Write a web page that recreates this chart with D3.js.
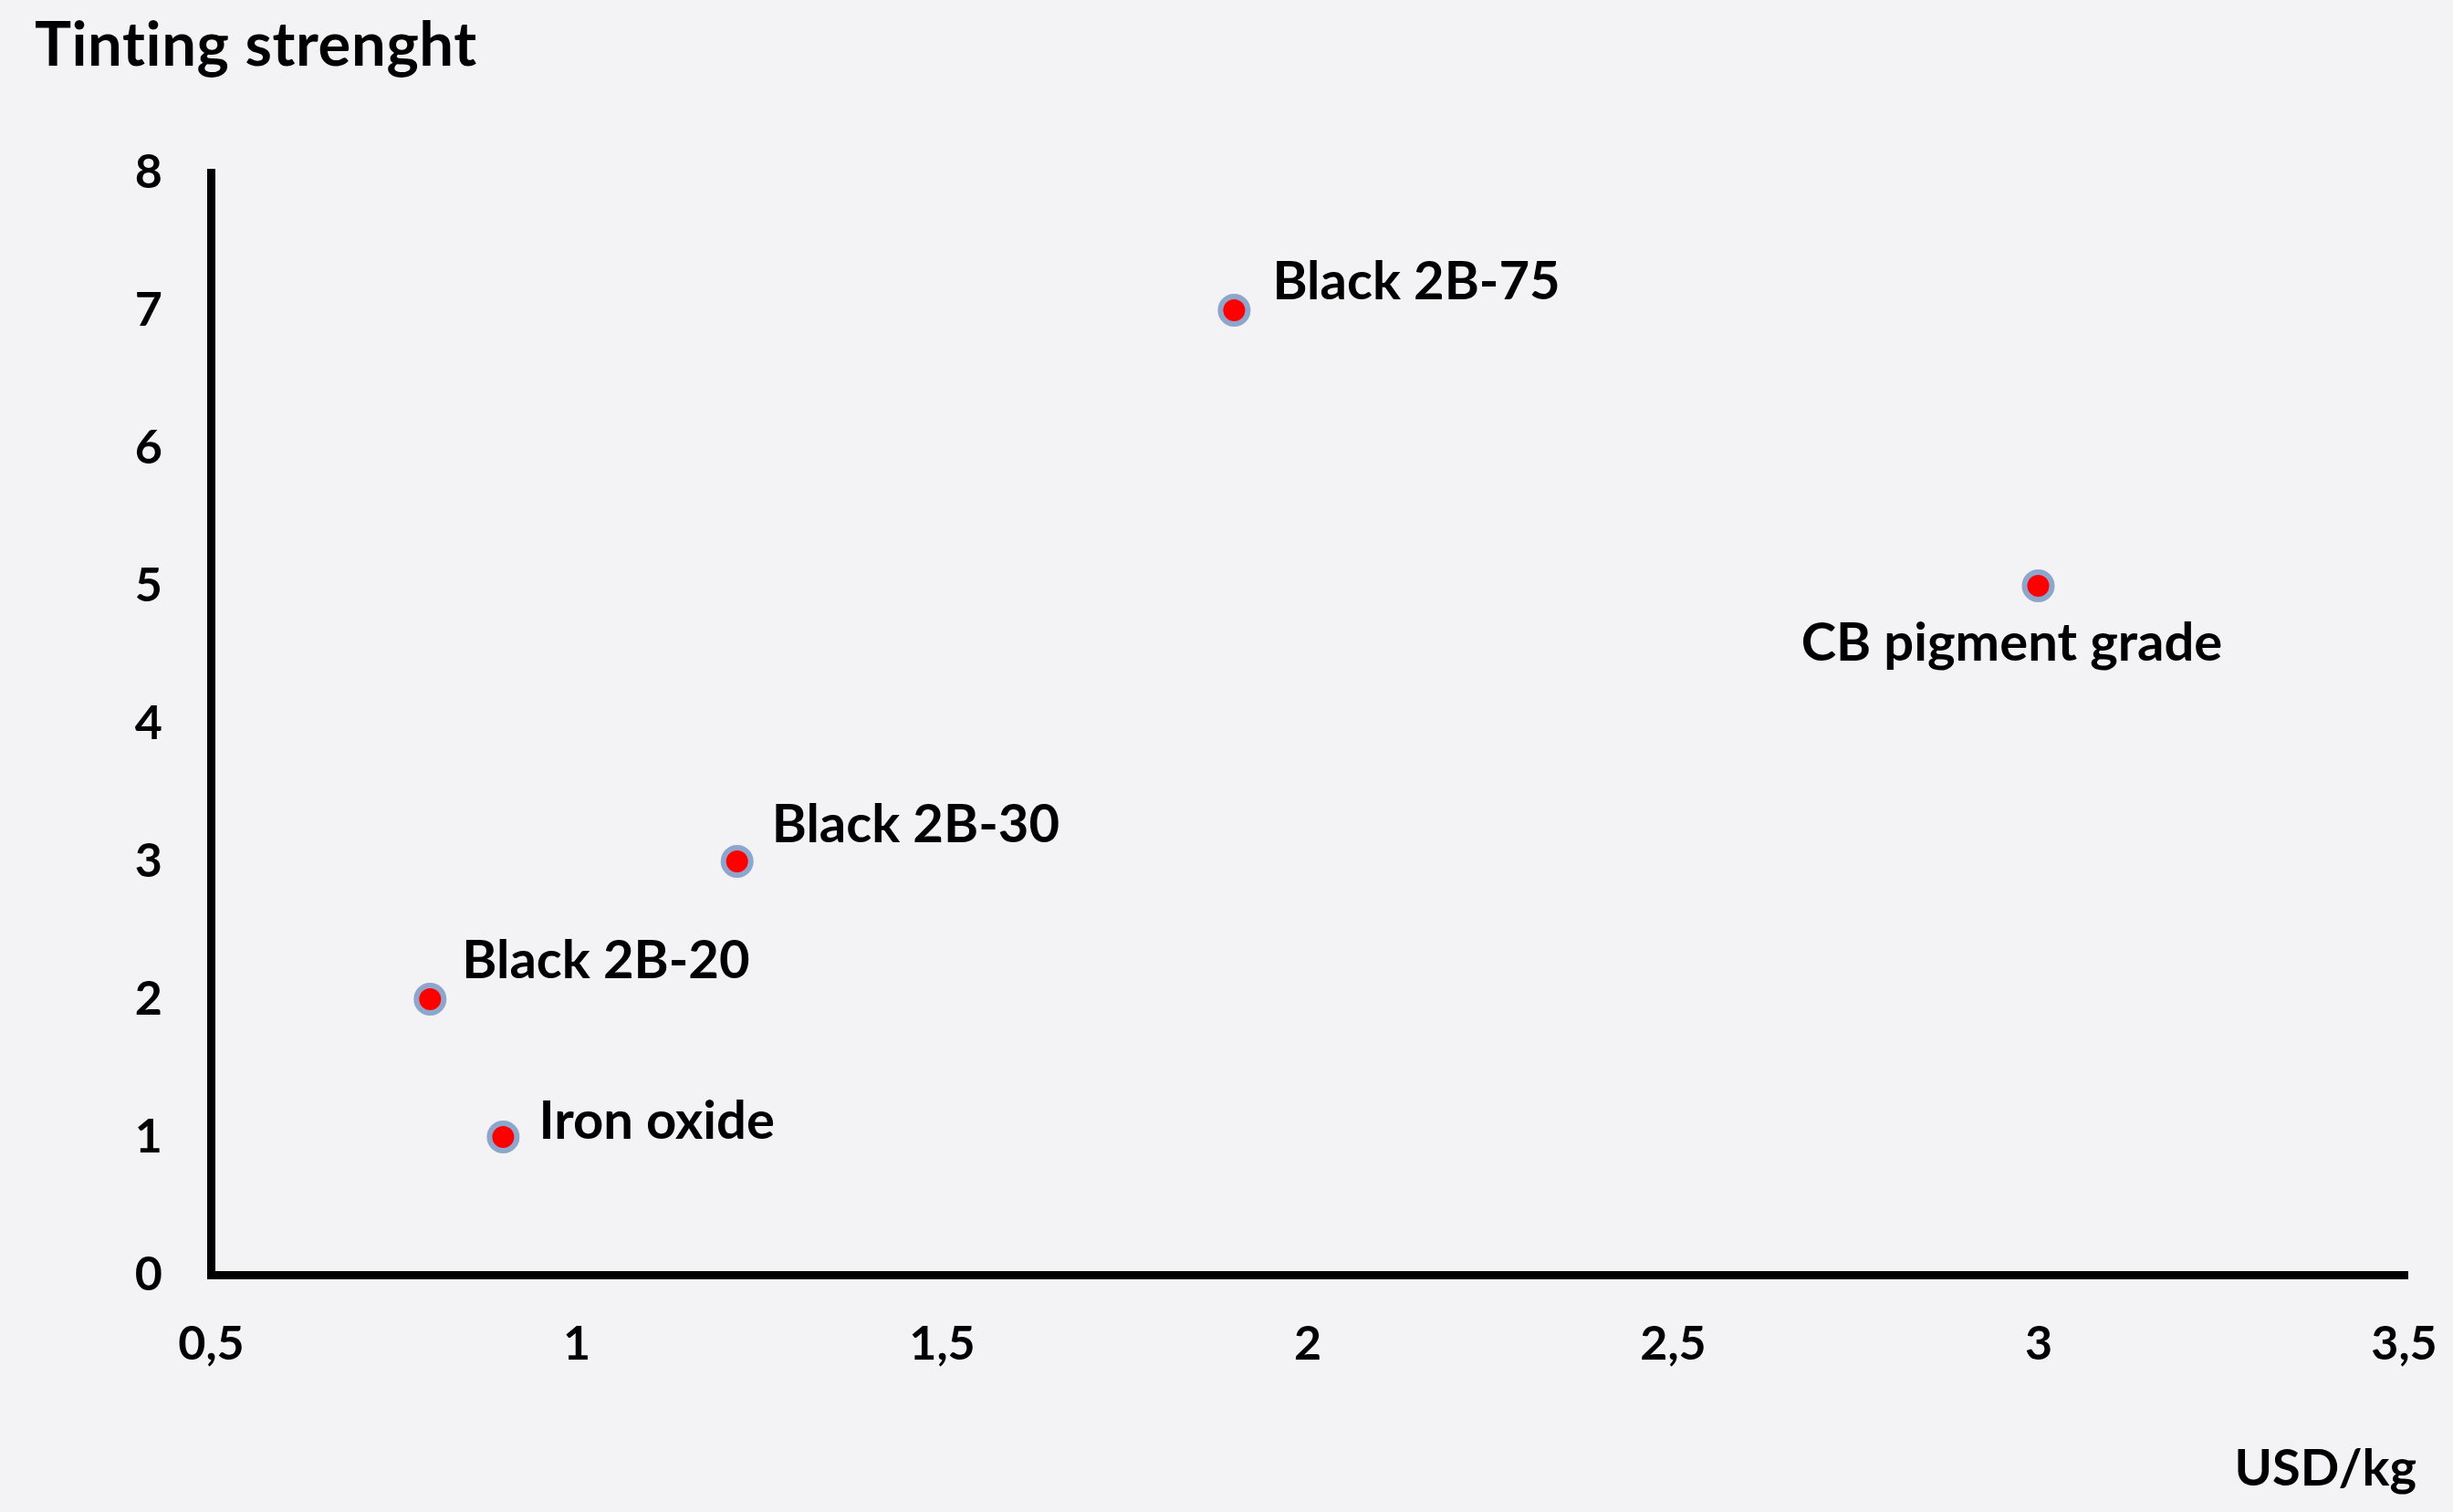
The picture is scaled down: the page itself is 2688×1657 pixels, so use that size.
<!DOCTYPE html>
<html>
<head>
<meta charset="utf-8">
<script src="https://cdn.jsdelivr.net/npm/d3@7"></script>
<style>
  html, body { margin: 0; padding: 0; background: #f3f3f5; }
  svg text {
    font-family: Lato, "Open Sans", sans-serif; font-weight: 700; fill: #000;
    font-variant-ligatures: none;
  }
</style>
</head>
<body>
<div id="chart"></div>
<script>
// Data
const names = ["Iron oxide", "Black 2B-20", "Black 2B-30", "Black 2B-75", "CB pigment grade"];
const price = [0.9, 0.8, 1.22, 1.9, 3.0];       // USD/kg
const tinting = [1, 2, 3, 7, 5];                 // tinting strength
const xTicks = [0.5, 1, 1.5, 2, 2.5, 3, 3.5];
const yTicks = [0, 1, 2, 3, 4, 5, 6, 7, 8];

// label placement relative to the dot (pixels)
const labelPlace = {
  "Iron oxide":       { dx: 39, dy: 2,  anchor: "start" },
  "Black 2B-20":      { dx: 35, dy: -23, anchor: "start" },
  "Black 2B-30":      { dx: 38, dy: -21, anchor: "start" },
  "Black 2B-75":      { dx: 42, dy: -12, anchor: "start" },
  "CB pigment grade": { dx: -29, dy: 82, anchor: "middle" }
};

const W = 2688, H = 1657;
const margin = { top: 189, right: 54, bottom: 260, left: 231 };

const svg = d3.select("#chart")
  .append("svg")
  .attr("width", W)
  .attr("height", H);

svg.append("rect")
  .attr("width", W)
  .attr("height", H)
  .attr("fill", "#f3f3f5");

const x = d3.scaleLinear()
  .domain([0.5, 3.5])
  .range([margin.left, W - margin.right]);

const y = d3.scaleLinear()
  .domain([0, 8])
  .range([H - margin.bottom, margin.top]);

const fmt = d => String(d).replace(".", ",");

// Title (zero-width non-joiner keeps Lato from using its "ti" ligature)
svg.append("text")
  .attr("x", 38)
  .attr("y", 72)
  .attr("font-size", 67)
  .attr("letter-spacing", 0.6)
  .text("Tint\u200Cing strenght");

// y axis
const yAxis = svg.append("g")
  .attr("transform", "translate(" + x(0.5) + ",0)")
  .call(d3.axisLeft(y).tickValues(yTicks).tickSize(0).tickSizeOuter(0).tickPadding(53).tickFormat(fmt));

// x axis
const xAxis = svg.append("g")
  .attr("transform", "translate(0," + y(0) + ")")
  .call(d3.axisBottom(x).tickValues(xTicks).tickSize(0).tickSizeOuter(0).tickPadding(56).tickFormat(fmt));

[yAxis, xAxis].forEach(g => {
  g.select(".domain")
    .attr("stroke", "#000")
    .attr("stroke-width", 9)
    .attr("stroke-linecap", "square");
  g.selectAll("text")
    .attr("font-size", 52)
    .attr("font-family", "Lato, 'Open Sans', sans-serif")
    .attr("font-weight", 700)
    .attr("fill", "#000");
});

// x axis title
svg.append("text")
  .attr("x", 2648)
  .attr("y", 1628)
  .attr("text-anchor", "end")
  .attr("font-size", 56)
  .text("USD/kg");

// points
const pts = names.map((n, i) => ({ name: n, px: price[i], ty: tinting[i] }));

svg.selectAll(".dot")
  .data(pts)
  .enter().append("circle")
  .attr("class", "dot")
  .attr("cx", d => x(d.px))
  .attr("cy", d => y(d.ty))
  .attr("r", 15)
  .attr("fill", "#ff0000")
  .attr("stroke", "#8fa6cc")
  .attr("stroke-width", 6);

svg.selectAll(".lbl")
  .data(pts)
  .enter().append("text")
  .attr("class", "lbl")
  .attr("x", d => x(d.px) + labelPlace[d.name].dx)
  .attr("y", d => y(d.ty) + labelPlace[d.name].dy)
  .attr("text-anchor", d => labelPlace[d.name].anchor)
  .attr("font-size", 58)
  .text(d => d.name);
</script>
</body>
</html>
